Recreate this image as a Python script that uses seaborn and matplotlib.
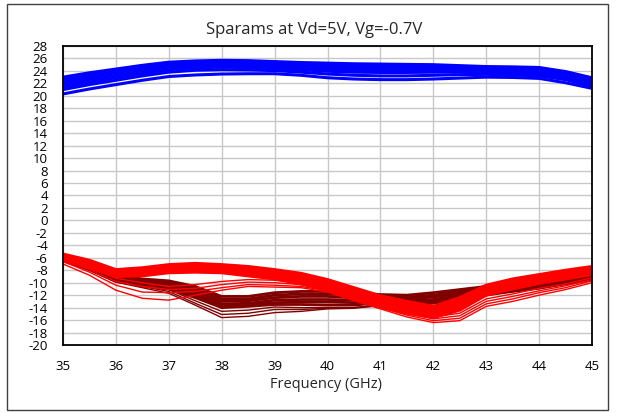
import matplotlib
matplotlib.use("Agg")
import matplotlib.pyplot as plt
import pandas as pd
import seaborn as sns
from matplotlib.patches import Rectangle

# ---------------- data ----------------
freq = [35, 35.5, 36, 36.5, 37, 37.5, 38, 38.5, 39, 39.5, 40,
        40.5, 41, 41.5, 42, 42.5, 43, 43.5, 44, 44.5, 45]

s21_curves = {
    "b1": [23.0, 23.7, 24.3, 24.9, 25.4, 25.6, 25.7, 25.65, 25.5, 25.35, 25.25, 25.15, 25.1, 25.05, 25.0, 24.85, 24.7, 24.65, 24.55, 23.9, 22.9],
    "b2": [22.6, 23.4, 24.1, 24.7, 25.2, 25.4, 25.45, 25.4, 25.25, 25.1, 24.95, 24.85, 24.8, 24.8, 24.75, 24.65, 24.5, 24.45, 24.3, 23.7, 22.6],
    "b3": [22.2, 23.0, 23.7, 24.4, 24.9, 25.15, 25.2, 25.15, 25.0, 24.85, 24.65, 24.5, 24.45, 24.45, 24.45, 24.4, 24.3, 24.2, 24.05, 23.45, 22.3],
    "b4": [21.8, 22.6, 23.3, 24.0, 24.6, 24.85, 24.95, 24.9, 24.75, 24.55, 24.3, 24.15, 24.1, 24.1, 24.15, 24.1, 24.05, 23.95, 23.8, 23.2, 22.0],
    "b5": [21.4, 22.2, 22.9, 23.6, 24.2, 24.5, 24.6, 24.55, 24.4, 24.2, 23.95, 23.8, 23.75, 23.75, 23.8, 23.8, 23.75, 23.65, 23.5, 22.9, 21.7],
    "b6": [21.0, 21.8, 22.5, 23.2, 23.8, 24.1, 24.2, 24.15, 24.05, 23.8, 23.5, 23.3, 23.2, 23.2, 23.3, 23.4, 23.45, 23.35, 23.2, 22.6, 21.5],
    "b7": [20.3, 21.1, 21.8, 22.5, 23.1, 23.35, 23.5, 23.55, 23.55, 23.3, 22.9, 22.7, 22.6, 22.6, 22.7, 22.85, 23.0, 22.95, 22.8, 22.1, 21.2],
}

s11_main = {
    "r1": [-5.4, -6.4, -7.9, -7.6, -7.1, -6.9, -7.1, -7.4, -7.9, -8.5, -9.5, -10.8, -12.1, -13.0, -13.8, -12.4, -10.4, -9.4, -8.7, -8.0, -7.4],
    "r2": [-5.6, -6.6, -8.1, -7.9, -7.4, -7.2, -7.3, -7.7, -8.2, -8.8, -9.8, -11.1, -12.4, -13.4, -14.2, -12.8, -10.7, -9.7, -9.0, -8.3, -7.6],
    "r3": [-5.8, -6.9, -8.4, -8.2, -7.7, -7.5, -7.6, -8.0, -8.5, -9.2, -10.2, -11.5, -12.8, -13.8, -14.6, -13.2, -11.0, -10.0, -9.3, -8.6, -7.9],
    "r4": [-6.0, -7.1, -8.6, -8.5, -8.0, -7.8, -7.9, -8.3, -8.8, -9.5, -10.5, -11.9, -13.2, -14.2, -15.0, -13.6, -11.3, -10.4, -9.6, -8.9, -8.2],
    "r5": [-6.2, -7.4, -8.8, -8.7, -8.2, -8.1, -8.2, -8.6, -9.1, -9.9, -10.9, -12.3, -13.6, -14.6, -15.3, -14.0, -11.7, -10.7, -9.9, -9.2, -8.5],
    "r6": [-6.4, -7.6, -9.0, -8.9, -8.4, -8.3, -8.4, -8.9, -9.4, -10.2, -11.2, -12.6, -13.9, -14.9, -15.6, -14.4, -12.0, -11.0, -10.1, -9.4, -8.7],
}
s11_spread = {
    "t1": [-6.0, -7.6, -9.3, -10.0, -10.6, -10.3, -9.8, -9.5, -9.6, -10.0, -10.9, -12.2, -13.4, -14.6, -15.5, -14.9, -12.6, -11.8, -10.9, -10.2, -9.2],
    "t2": [-6.3, -7.9, -9.8, -10.6, -11.1, -10.9, -10.3, -9.9, -10.0, -10.3, -11.1, -12.5, -13.7, -14.9, -15.8, -15.3, -13.0, -12.2, -11.3, -10.5, -9.5],
    "t3": [-6.6, -8.3, -10.4, -11.5, -11.6, -11.4, -10.8, -10.3, -10.4, -10.6, -11.3, -12.7, -14.0, -15.2, -16.1, -15.7, -13.4, -12.6, -11.6, -10.8, -9.7],
    "t4": [-7.0, -8.8, -11.2, -12.5, -12.8, -12.0, -11.2, -10.6, -10.7, -10.8, -11.5, -12.9, -14.2, -15.5, -16.4, -16.1, -13.8, -13.0, -12.0, -11.1, -10.0],
}

s22_main = {
    "d1": [-5.5, -7.0, -8.7, -9.4, -9.7, -10.6, -12.2, -12.2, -11.6, -11.4, -11.4, -11.6, -11.9, -12.0, -11.6, -11.1, -10.6, -10.1, -9.6, -9.0, -8.4],
    "d2": [-5.7, -7.2, -8.9, -9.6, -10.0, -11.0, -12.6, -12.6, -12.0, -11.8, -11.8, -12.0, -12.2, -12.3, -12.0, -11.4, -10.9, -10.4, -9.8, -9.2, -8.6],
    "d3": [-5.9, -7.4, -9.1, -9.8, -10.3, -11.4, -13.0, -12.9, -12.4, -12.2, -12.2, -12.4, -12.5, -12.6, -12.3, -11.7, -11.2, -10.6, -10.1, -9.5, -8.8],
    "d4": [-6.1, -7.6, -9.4, -10.1, -10.6, -11.8, -13.4, -13.3, -12.8, -12.7, -12.7, -12.8, -12.7, -12.9, -12.7, -12.0, -11.5, -10.9, -10.4, -9.7, -9.1],
    "d5": [-6.3, -7.8, -9.6, -10.3, -10.8, -12.1, -13.7, -13.6, -13.2, -13.1, -13.1, -13.2, -13.0, -13.2, -13.0, -12.2, -11.7, -11.1, -10.6, -9.9, -9.3],
    "d6": [-6.5, -7.9, -9.8, -10.5, -11.0, -12.4, -14.0, -13.8, -13.5, -13.5, -13.6, -13.6, -13.2, -13.5, -13.2, -12.4, -11.9, -11.3, -10.8, -10.1, -9.5],
}
s22_spread = {
    "l1": [-6.0, -7.6, -9.5, -10.4, -11.1, -12.9, -14.6, -14.4, -13.9, -14.0, -14.0, -14.0, -13.5, -13.4, -13.2, -12.4, -11.9, -11.3, -10.8, -10.1, -9.4],
    "l2": [-6.2, -7.8, -9.7, -10.6, -11.4, -13.3, -15.1, -14.9, -14.3, -14.3, -14.1, -14.0, -13.6, -13.5, -13.3, -12.6, -12.0, -11.4, -10.9, -10.2, -9.5],
    "l3": [-6.4, -8.0, -9.9, -10.8, -11.7, -13.6, -15.6, -15.4, -14.8, -14.6, -14.2, -14.1, -13.7, -13.6, -13.4, -12.7, -12.1, -11.5, -11.0, -10.3, -9.6],
}

x_ticks = list(range(35, 46))
y_ticks = list(range(-20, 29, 2))
title_text = "Sparams at Vd=5V, Vg=-0.7V"
x_label = "Frequency (GHz)"


def to_long(curves):
    rows = []
    for name, vals in curves.items():
        for f, v in zip(freq, vals):
            rows.append((name, f, v))
    return pd.DataFrame(rows, columns=["curve", "freq", "db"])


# ---------------- figure ----------------
sns.set_style("white")
plt.rcParams["font.family"] = ["Open Sans", "DejaVu Sans"]
plt.rcParams["axes.unicode_minus"] = False

W, H = 618, 413
fig = plt.figure(figsize=(W / 100, H / 100), dpi=100)
ax = fig.add_axes([63 / W, 1 - 345 / H, (592 - 63) / W, (345 - 46) / H])

layers = [
    (s21_curves, "#0000ff", 2.2),
    (s22_spread, "#800000", 1.0),
    (s22_main, "#800000", 2.0),
    (s11_spread, "#ff0000", 1.0),
    (s11_main, "#ff0000", 2.2),
]
for curves, color, lw in layers:
    sns.lineplot(data=to_long(curves), x="freq", y="db", units="curve",
                 estimator=None, color=color, lw=lw, ax=ax, legend=False)

ax.set_xlim(35, 45)
ax.set_ylim(-20, 28)
ax.set_xticks(x_ticks)
ax.set_yticks(y_ticks)
ax.grid(True, color="#c8c8c8", lw=1.0)
ax.set_axisbelow(True)
ax.set_xlabel("")
ax.set_ylabel("")
ax.tick_params(axis="both", length=0, labelsize=9.5, colors="black")
ax.tick_params(axis="x", pad=11)
ax.tick_params(axis="y", pad=11)
for s in ax.spines.values():
    s.set_visible(True)
    s.set_color("black")
    s.set_linewidth(1.3)

fig.text(314 / W, 1 - 30 / H, title_text, ha="center", va="center", fontsize=12)
fig.text(326 / W, 1 - 385 / H, x_label, ha="center", va="center", fontsize=10.5)

fig.patches.append(Rectangle((7 / W, 3 / H), 601 / W, 406 / H, transform=fig.transFigure,
                             fill=False, ec="#404040", lw=1.0))

fig.savefig("out.png", dpi=100)
